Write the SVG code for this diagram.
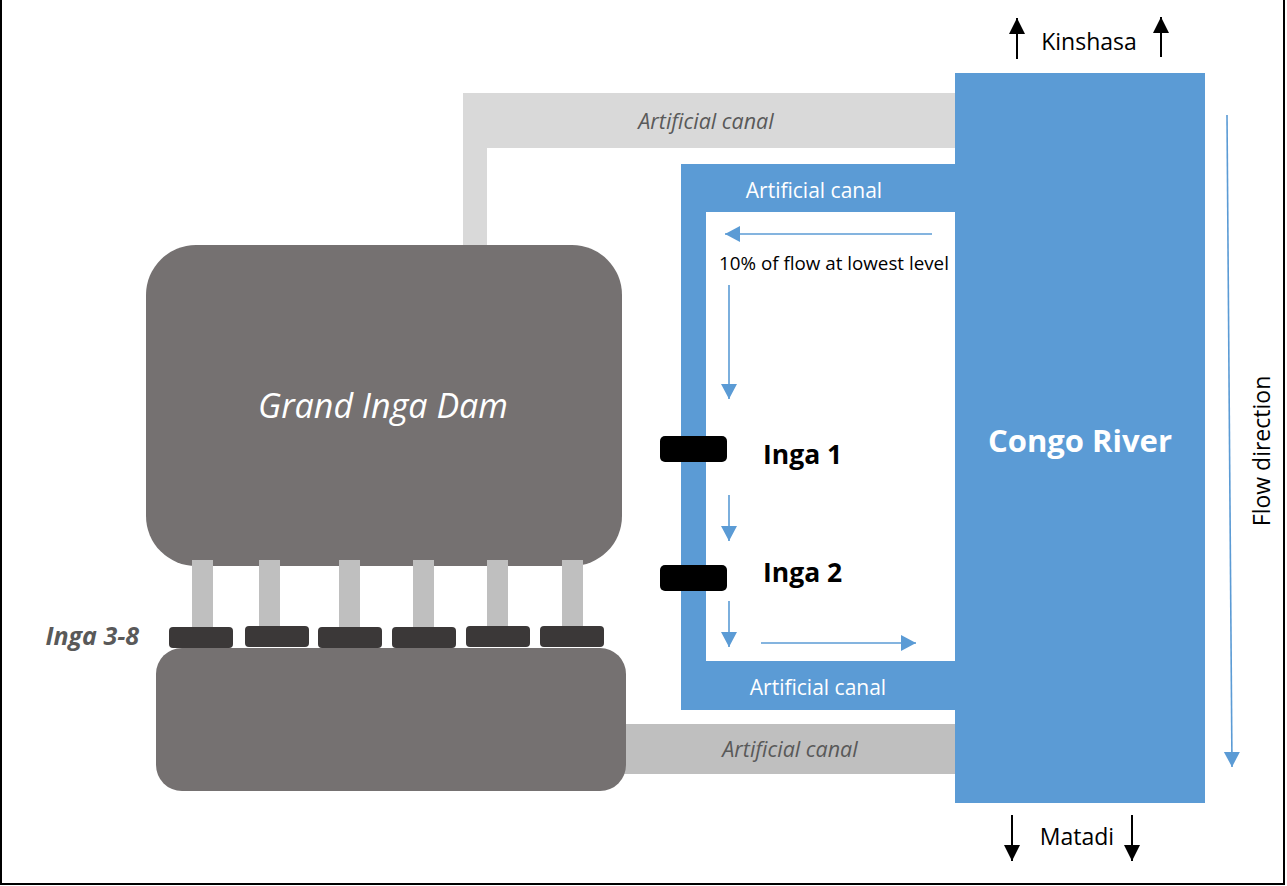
<svg xmlns="http://www.w3.org/2000/svg" width="1287" height="886" viewBox="0 0 1287 886">
  <defs>
    <marker id="head-blue" markerUnits="userSpaceOnUse" markerWidth="16" markerHeight="18" refX="15" refY="8" orient="auto">
      <path d="M0,0 L15,8 L0,16 z" fill="#5B9BD5"/>
    </marker>
    <marker id="head-black" markerUnits="userSpaceOnUse" markerWidth="18" markerHeight="18" refX="16" refY="8" orient="auto">
      <path d="M0,0 L16,8 L0,16 z" fill="#000"/>
    </marker>
  </defs>
  <style>
    text { font-family: "Open Sans", "Noto Sans", "Liberation Sans", sans-serif; }
    .canal-grey { font-style: italic; font-size: 21.5px; fill: #595959; text-anchor: middle; }
    .canal-blue { font-size: 21px; fill: #fff; text-anchor: middle; }
    .label { font-size: 23px; fill: #000; }
    .station { font-size: 26.5px; font-weight: bold; fill: #000; }
    .flow { stroke: #5B9BD5; stroke-width: 1.6; fill: none; marker-end: url(#head-blue); }
    .dir { stroke: #000; stroke-width: 2; fill: none; marker-end: url(#head-black); }
    .pillar { fill: #BFBFBF; }
    .turbine { fill: #3B3838; }
  </style>

  <rect width="1287" height="886" fill="#fff"/>
  <!-- frame -->
  <path d="M1,0 V884 H1284 V0" fill="none" stroke="#000" stroke-width="2"/>

  <!-- upper grey canal -->
  <g id="canal-upper">
    <path d="M463,93 H955 V148 H487 V246 H463 z" fill="#D9D9D9"/>
    <text class="canal-grey" x="706" y="129">Artificial canal</text>
  </g>

  <!-- lower grey canal -->
  <g id="canal-lower">
    <rect x="600" y="724" width="355" height="50" fill="#BFBFBF"/>
    <text class="canal-grey" x="790" y="757">Artificial canal</text>
  </g>

  <!-- blue U-shaped canal feeding Inga 1 and 2 -->
  <g id="canal-inga">
    <path d="M681,164 H955 V212 H706 V661 H955 V710 H681 z" fill="#5B9BD5"/>
    <text class="canal-blue" x="814" y="198">Artificial canal</text>
    <text class="canal-blue" x="818" y="695">Artificial canal</text>
  </g>

  <!-- main river -->
  <g id="congo-river">
    <rect x="955" y="73" width="250" height="730" fill="#5B9BD5"/>
    <text x="1080" y="452" font-size="31" font-weight="bold" fill="#fff" text-anchor="middle">Congo River</text>
  </g>

  <!-- reservoir -->
  <g id="grand-inga-dam">
    <rect x="146" y="245" width="476" height="321" rx="50" ry="50" fill="#757171"/>
    <text x="383" y="418" font-size="34" font-style="italic" fill="#fff" text-anchor="middle">Grand Inga Dam</text>
  </g>

  <!-- penstocks -->
  <g id="penstocks">
    <rect class="pillar" x="192" y="560" width="21" height="68"/>
    <rect class="pillar" x="259" y="560" width="21" height="68"/>
    <rect class="pillar" x="339" y="560" width="21" height="68"/>
    <rect class="pillar" x="413" y="560" width="21" height="68"/>
    <rect class="pillar" x="487" y="560" width="21" height="68"/>
    <rect class="pillar" x="562" y="560" width="21" height="68"/>
  </g>

  <!-- tailrace basin -->
  <g id="tailrace">
    <rect x="156" y="648" width="470" height="143" rx="26" ry="26" fill="#757171"/>
  </g>

  <!-- Inga 3 to 8 power stations -->
  <g id="inga-3-8">
    <rect class="turbine" x="169" y="627" width="64" height="21" rx="4"/>
    <rect class="turbine" x="245" y="626" width="64" height="21" rx="4"/>
    <rect class="turbine" x="318" y="627" width="64" height="21" rx="4"/>
    <rect class="turbine" x="392" y="627" width="64" height="21" rx="4"/>
    <rect class="turbine" x="466" y="626" width="64" height="21" rx="4"/>
    <rect class="turbine" x="540" y="626" width="64" height="21" rx="4"/>
    <text x="139" y="645" font-size="25" font-weight="bold" font-style="italic" fill="#595959" text-anchor="end">Inga 3-8</text>
  </g>

  <!-- Inga 1 -->
  <g id="inga-1">
    <rect x="660" y="436" width="67" height="26" rx="5" fill="#000"/>
    <text class="station" x="763" y="464">Inga 1</text>
  </g>

  <!-- Inga 2 -->
  <g id="inga-2">
    <rect x="660" y="565" width="67" height="26" rx="5" fill="#000"/>
    <text class="station" x="763" y="582">Inga 2</text>
  </g>

  <!-- labels -->
  <g id="labels">
    <text class="label" x="1089" y="50" text-anchor="middle">Kinshasa</text>
    <text class="label" x="1077" y="845" text-anchor="middle">Matadi</text>
    <text x="834" y="270" font-size="18.8" fill="#000" text-anchor="middle">10% of flow at lowest level</text>
    <text class="label" transform="translate(1270,451) rotate(-90)" text-anchor="middle">Flow direction</text>
  </g>

  <!-- flow arrows -->
  <g id="connectors">
    <line class="flow" x1="932" y1="234" x2="725" y2="234"/>
    <line class="flow" x1="729" y1="285" x2="729" y2="399"/>
    <line class="flow" x1="729" y1="495" x2="729" y2="541"/>
    <line class="flow" x1="729" y1="601" x2="729" y2="647"/>
    <line class="flow" x1="761" y1="643" x2="916" y2="643"/>
    <line class="flow" x1="1227" y1="115" x2="1232" y2="767"/>
    <line class="dir" x1="1017" y1="59" x2="1017" y2="18"/>
    <line class="dir" x1="1161" y1="57" x2="1161" y2="17"/>
    <line class="dir" x1="1012" y1="815" x2="1012" y2="861"/>
    <line class="dir" x1="1132" y1="815" x2="1132" y2="861"/>
  </g>
</svg>
